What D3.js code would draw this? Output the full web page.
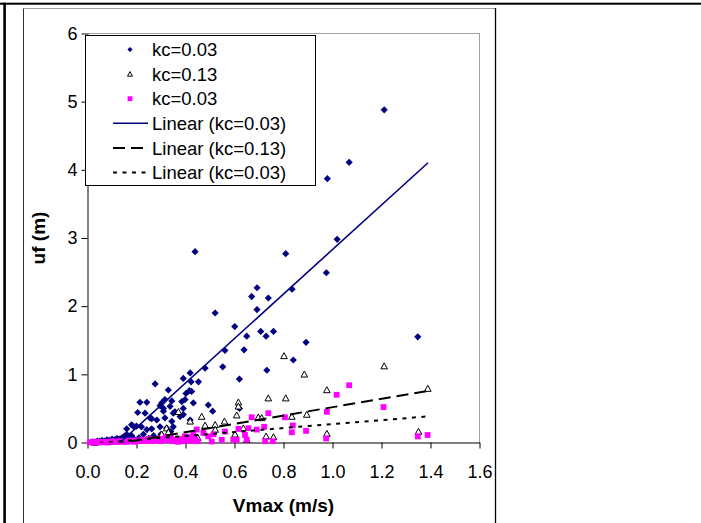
<!DOCTYPE html>
<html>
<head>
<meta charset="utf-8">
<script src="https://cdn.jsdelivr.net/npm/d3@7"></script>
<style>
  html, body { margin: 0; padding: 0; background: #fff; }
  svg { display: block; font-family: Arial, "Liberation Sans", sans-serif; }
</style>
</head>
<body>
<svg id="chart" width="701" height="523"></svg>
<script>
// ---------------- data ----------------
const xTickLabels = [0.0, 0.2, 0.4, 0.6, 0.8, 1.0, 1.2, 1.4, 1.6];
const yTickLabels = [0, 1, 2, 3, 4, 5, 6];

const seriesNames = ["kc=0.03", "kc=0.13", "kc=0.03"];
const trendNames = ["Linear (kc=0.03)", "Linear (kc=0.13)", "Linear (kc=0.03)"];

// series 1 : kc=0.03 (navy diamonds)
const xBlue = [0.02,0.03,0.04,0.05,0.06,0.07,0.08,0.09,0.10,0.11,0.12,0.13,0.14,0.15,0.16,0.17,0.18,
  0.153,0.16,0.18,0.19,0.20,0.22,0.228,0.242,0.262,0.205,0.235,0.262,0.283,0.31,0.316,0.214,0.242,0.296,
  0.303,0.316,0.337,0.35,0.276,0.33,0.391,0.385,0.398,0.402,0.416,0.425,0.432,0.419,0.391,0.419,0.423,
  0.453,0.296,0.323,0.35,0.34,0.30,0.27,0.25,0.21,0.19,0.344,0.391,0.357,0.378,0.344,0.255,0.31,
  0.493,0.511,0.48,0.552,0.561,0.639,0.62,0.62,0.65,0.707,0.729,0.759,0.732,0.840,0.892,0.521,0.601,
  0.670,0.692,0.692,0.738,0.439,0.809,0.835,0.975,1.019,0.979,1.068,1.211,1.348];
const yBlue = [0.01,0.01,0.02,0.02,0.03,0.02,0.04,0.03,0.05,0.04,0.06,0.05,0.07,0.09,0.12,0.08,0.10,
  0.09,0.20,0.26,0.23,0.24,0.23,0.12,0.19,0.20,0.44,0.43,0.35,0.33,0.46,0.36,0.59,0.59,0.54,
  0.58,0.63,0.53,0.43,0.86,0.77,0.41,0.60,0.63,0.72,0.76,0.75,0.58,0.33,0.94,1.02,0.89,
  0.89,0.23,0.21,0.23,0.16,0.12,0.10,0.06,0.07,0.05,0.61,0.50,0.45,0.38,0.31,0.36,0.50,
  0.55,0.46,1.09,1.11,1.35,1.36,0.93,0.50,1.56,1.63,1.56,1.63,1.06,1.21,1.47,1.90,1.70,
  2.14,2.27,1.95,2.12,2.80,2.77,2.25,2.49,2.98,3.87,4.11,4.88,1.55];

// series 2 : kc=0.13 (open triangles)
const xTri = [0.03,0.06,0.09,0.12,0.15,0.18,0.21,0.24,0.27,0.30,
  0.303,0.323,0.33,0.371,0.419,0.45,0.466,0.48,0.521,0.521,0.559,0.602,0.609,0.616,0.616,0.636,0.65,
  0.697,0.711,0.729,0.738,0.759,0.809,0.802,0.834,0.885,0.895,0.977,0.977,1.211,1.351,1.389];
const yTri = [0.00,0.01,0.01,0.02,0.02,0.03,0.03,0.04,0.05,0.06,
  0.12,0.21,0.15,0.45,0.31,0.07,0.38,0.25,0.26,0.19,0.31,0.12,0.40,0.59,0.53,0.21,0.04,
  0.37,0.36,0.09,0.65,0.08,0.65,1.27,0.38,1.00,0.41,0.77,0.13,1.12,0.16,0.79];

// series 3 : kc=0.03 (magenta squares)
const xPink = [0.01,0.02,0.03,0.04,0.05,0.06,0.07,0.08,0.09,0.10,0.11,0.12,0.13,0.14,0.15,0.16,0.17,
  0.18,0.19,0.20,0.21,0.22,0.23,0.24,0.25,0.26,0.27,0.28,0.29,0.30,0.31,0.32,0.33,0.34,0.35,0.36,0.37,
  0.38,0.39,0.40,0.41,0.42,0.43,0.44,
  0.398,0.432,0.446,0.45,0.473,0.493,0.507,0.514,0.548,0.561,0.595,0.609,0.616,0.643,0.65,0.657,0.67,
  0.691,0.721,0.725,0.738,0.756,0.806,0.834,0.838,0.892,0.974,0.977,1.017,1.068,1.208,1.348,1.388];
const yPink = [0.00,0.01,0.00,0.01,0.00,0.01,0.01,0.00,0.01,0.02,0.01,0.01,0.02,0.01,0.02,0.01,0.03,
  0.02,0.01,0.03,0.02,0.04,0.02,0.03,0.05,0.02,0.04,0.03,0.06,0.02,0.05,0.08,0.03,0.07,0.02,0.04,0.01,
  0.05,0.02,0.06,0.03,0.08,0.02,0.04,
  0.09,0.12,0.19,0.02,0.14,0.09,0.015,0.12,0.04,0.16,0.04,0.04,0.20,0.11,0.04,0.21,0.37,
  0.19,0.23,0.02,0.43,0.02,0.37,0.15,0.25,0.17,0.06,0.45,0.70,0.84,0.52,0.09,0.11];

// linear trend lines (slope, intercept, x-range of the fitted series)
const trendSlope = [3.265, 0.61, 0.29];
const trendIntercept = [-0.434, -0.092, -0.02];
const trendXMin = [0.02, 0.03, 0.01];
const trendXMax = [1.39, 1.39, 1.39];

// ---------------- drawing ----------------
const svg = d3.select("#chart");
const W = 701, H = 523;
const plot = { left: 87.5, right: 479.5, top: 33.5, bottom: 442.5 };

const x = d3.scaleLinear().domain([0, 1.6]).range([plot.left, plot.right]);
const y = d3.scaleLinear().domain([0, 6]).range([plot.bottom, plot.top]);

// page / table frame
svg.append("rect").attr("x", 0).attr("y", 0).attr("width", W).attr("height", H).attr("fill", "#fff");
svg.append("rect").attr("x", 0).attr("y", 2.7).attr("width", W).attr("height", 2).attr("fill", "#000");
svg.append("rect").attr("x", 3.3).attr("y", 2.7).attr("width", 2.6).attr("height", H).attr("fill", "#000");
// chart area border
svg.append("line").attr("x1", 23.5).attr("x2", 495).attr("y1", 8.5).attr("y2", 8.5)
  .attr("stroke", "#a0a0a0").attr("stroke-width", 1);
svg.append("line").attr("x1", 23.5).attr("x2", 23.5).attr("y1", 8.5).attr("y2", H)
  .attr("stroke", "#303030").attr("stroke-width", 1);
svg.append("line").attr("x1", 495.5).attr("x2", 495.5).attr("y1", 8).attr("y2", H)
  .attr("stroke", "#000").attr("stroke-width", 1.3);

// plot area border (top & right gray)
svg.append("path")
  .attr("d", `M${plot.left},${plot.top}H${plot.right}V${plot.bottom}`)
  .attr("fill", "none").attr("stroke", "#a0a0a0").attr("stroke-width", 1);

// axes
const yAxis = d3.axisLeft(y).tickValues(yTickLabels).tickFormat(d3.format("d"))
  .tickSize(6).tickSizeOuter(0).tickPadding(4);
const gy = svg.append("g").attr("transform", `translate(${plot.left},0)`).call(yAxis);
const xAxis = d3.axisBottom(x).tickValues(xTickLabels).tickFormat(d3.format(".1f"))
  .tickSize(6).tickSizeOuter(0).tickPadding(17);
const gx = svg.append("g").attr("transform", `translate(0,${plot.bottom})`).call(xAxis);
[gx, gy].forEach(g => {
  g.select(".domain").attr("stroke", "#000").attr("stroke-width", 1);
  g.selectAll(".tick line").attr("stroke", "#000").attr("stroke-width", 1);
  g.selectAll(".tick text").attr("fill", "#000")
    .style("font-family", "Arial, 'Liberation Sans', sans-serif").style("font-size", "18px");
});

// axis titles
svg.append("text").attr("x", (plot.left + plot.right) / 2).attr("y", 512)
  .attr("text-anchor", "middle").style("font-size", "19px").style("font-weight", "bold")
  .text("Vmax (m/s)");
svg.append("text").attr("transform", `translate(45,${(plot.top + plot.bottom) / 2}) rotate(-90)`)
  .attr("text-anchor", "middle").style("font-size", "19px").style("font-weight", "bold")
  .text("uf (m)");

// marker shapes
const diamond = r => `M0,${-r}L${r},0L0,${r}L${-r},0Z`;
const triangle = s => `M0,${-s * 0.55}L${s * 0.55},${s * 0.45}L${-s * 0.55},${s * 0.45}Z`;

const gData = svg.append("g");
const blueData = xBlue.map((v, i) => [v, yBlue[i]]);
const triData = xTri.map((v, i) => [v, yTri[i]]);
const pinkData = xPink.map((v, i) => [v, yPink[i]]);

gData.selectAll(".blue").data(blueData).join("path").attr("class", "blue")
  .attr("d", diamond(3.6)).attr("transform", d => `translate(${x(d[0])},${y(d[1])})`)
  .attr("fill", "#000080");
gData.selectAll(".tri").data(triData).join("path").attr("class", "tri")
  .attr("d", triangle(6)).attr("transform", d => `translate(${x(d[0])},${y(d[1])})`)
  .attr("fill", "#fff").attr("stroke", "#000").attr("stroke-width", 1);
gData.selectAll(".pink").data(pinkData).join("rect").attr("class", "pink")
  .attr("x", d => x(d[0]) - 2.9).attr("y", d => y(d[1]) - 2.9)
  .attr("width", 5.8).attr("height", 5.8).attr("fill", "#ff00ff");

// trend lines, clipped to the plot area
svg.append("clipPath").attr("id", "plotclip").append("rect")
  .attr("x", plot.left).attr("y", plot.top)
  .attr("width", plot.right - plot.left).attr("height", plot.bottom - plot.top);
const trendStyles = [
  { color: "#000080", width: 1.6, dash: null },
  { color: "#000", width: 2, dash: "12,6" },
  { color: "#000", width: 2, dash: "4,5.5" }
];
const line = d3.line().x(d => x(d[0])).y(d => y(d[1]));
const gTrend = svg.append("g").attr("clip-path", "url(#plotclip)");
trendSlope.forEach((m, i) => {
  const pts = [trendXMin[i], trendXMax[i]].map(v => [v, m * v + trendIntercept[i]]);
  gTrend.append("path").attr("d", line(pts)).attr("fill", "none")
    .attr("stroke", trendStyles[i].color).attr("stroke-width", trendStyles[i].width)
    .attr("stroke-dasharray", trendStyles[i].dash);
});

// legend
const leg = svg.append("g");
leg.append("rect").attr("x", 85.5).attr("y", 35.5).attr("width", 230).attr("height", 150)
  .attr("fill", "#fff").attr("stroke", "#000").attr("stroke-width", 1);
const rowY = i => 49.5 + i * 24.6;
const legendLabels = seriesNames.concat(trendNames);
legendLabels.forEach((t, i) => {
  leg.append("text").attr("x", 152).attr("y", rowY(i)).attr("dy", "0.36em")
    .style("font-size", "18.5px").attr("fill", "#000").text(t);
});
leg.append("path").attr("d", diamond(2.6)).attr("transform", `translate(130,${rowY(0)})`).attr("fill", "#000080");
leg.append("path").attr("d", triangle(4.6)).attr("transform", `translate(130,${rowY(1)})`)
  .attr("fill", "#fff").attr("stroke", "#000").attr("stroke-width", 1);
leg.append("rect").attr("x", 127.6).attr("y", rowY(2) - 2.4).attr("width", 4.8).attr("height", 4.8).attr("fill", "#ff00ff");
trendStyles.forEach((s, i) => {
  leg.append("line").attr("x1", 113).attr("x2", 148).attr("y1", rowY(3 + i)).attr("y2", rowY(3 + i))
    .attr("stroke", s.color).attr("stroke-width", s.width).attr("stroke-dasharray", s.dash);
});
</script>
</body>
</html>
